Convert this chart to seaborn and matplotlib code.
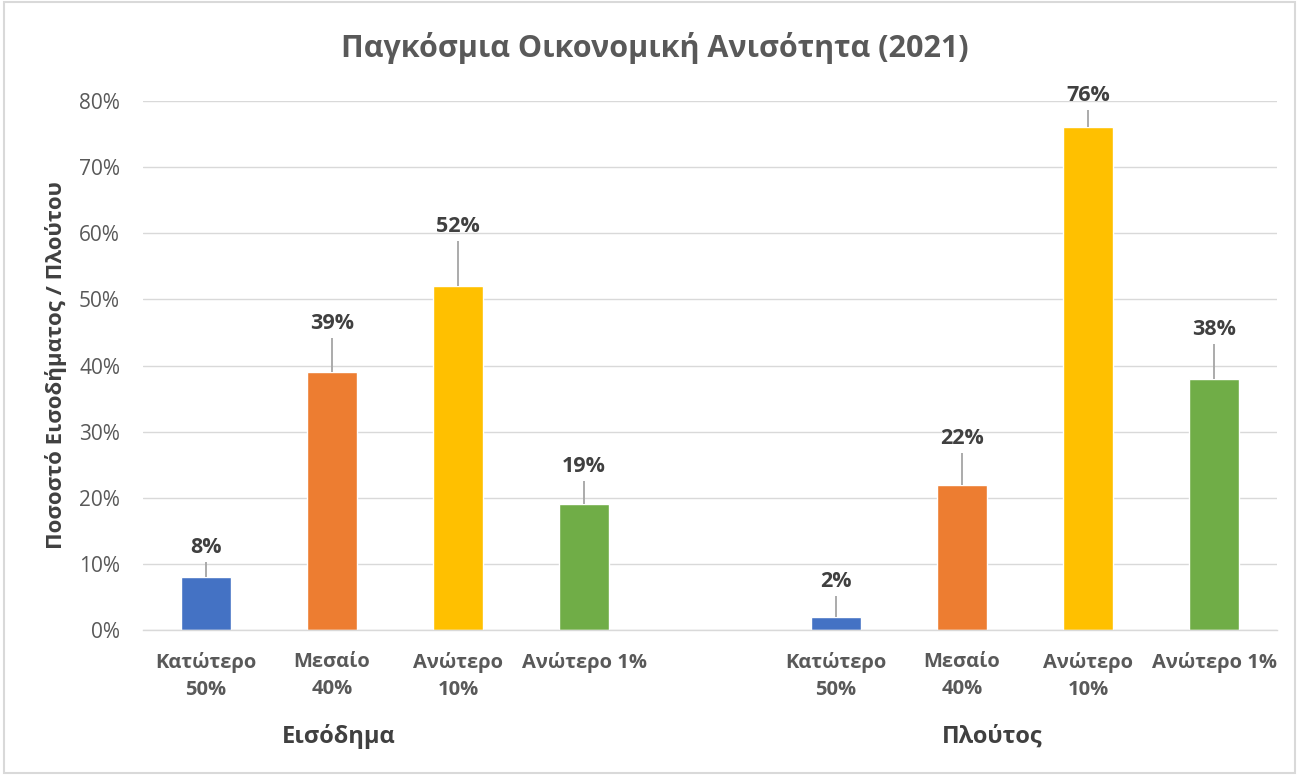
import matplotlib
matplotlib.use("Agg")
import matplotlib.pyplot as plt
import seaborn as sns
import pandas as pd
from matplotlib.patches import Rectangle

# ---- data ----
groups = ["Εισόδημα", "Πλούτος"]
levels = ["Κατώτερο\n50%", "Μεσαίο\n40%", "Ανώτερο\n10%", "Ανώτερο 1%"]
income_values = [0.08, 0.39, 0.52, 0.19]
wealth_values = [0.02, 0.22, 0.76, 0.38]
income_errors = [0.023, 0.051, 0.068, 0.036]
wealth_errors = [0.032, 0.047, 0.027, 0.053]
colors = ["#4472C4", "#ED7D31", "#FFC000", "#70AD47"]
title = "Παγκόσμια Οικονομική Ανισότητα (2021)"
ylabel = "Ποσοστό Εισοδήματος / Πλούτου"

rows = []
for g, vals, errs in [(groups[0], income_values, income_errors), (groups[1], wealth_values, wealth_errors)]:
    for lv, v, e in zip(levels, vals, errs):
        rows.append({"key": g + "|" + lv, "group": g, "level": lv, "value": v, "err": e})
df = pd.DataFrame(rows)
order = [groups[0] + "|" + lv for lv in levels] + ["__blank__"] + [groups[1] + "|" + lv for lv in levels]

sns.set_theme(style="white")
plt.rcParams["font.family"] = ["Open Sans", "DejaVu Sans"]
text_color = "#595959"
dark = "#404040"

fig = plt.figure(figsize=(12.99, 7.75), dpi=100)
ax = fig.add_axes([143 / 1299, 1 - 630 / 775, (1277 - 143) / 1299, (630 - 101) / 775])

sns.barplot(data=df, x="key", y="value", hue="level", order=order, hue_order=levels,
            palette=colors, dodge=False, width=0.4, legend=False, ax=ax, saturation=1)

pos = {k: i for i, k in enumerate(order)}
for _, r in df.iterrows():
    x = pos[r["key"]]
    ax.errorbar([x], [r["value"]], yerr=[[0], [r["err"]]], fmt="none", ecolor="#A5A5A5",
                elinewidth=1.3, capsize=0, zorder=3)
    ax.text(x, r["value"] + r["err"] + 0.006, f"{int(round(r['value'] * 100))}%", ha="center",
            va="bottom", fontsize=15.5, fontweight="bold", color=dark)

ax.set_ylim(0, 0.8)
ax.set_xlim(-0.5, len(order) - 0.5)
ax.set_yticks([i / 10 for i in range(9)])
ax.set_yticklabels([f"{i * 10}%" for i in range(9)], fontsize=15, color=text_color)
ax.tick_params(axis="y", length=0, pad=16.5)
ax.set_xticks(range(len(order)))
ax.set_xticklabels([k.split("|")[1] if "|" in k else "" for k in order], fontsize=14.5,
                   fontweight="bold", color=text_color, linespacing=1.5)
ax.tick_params(axis="x", length=0, pad=15.5)
ax.yaxis.grid(True, color="#D9D9D9", linewidth=1)
ax.set_axisbelow(True)
for s in ["top", "right", "left"]:
    ax.spines[s].set_visible(False)
ax.spines["bottom"].set_color("#D9D9D9")
ax.spines["bottom"].set_linewidth(1)
ax.set_xlabel("")
ax.set_ylabel("")
fig.text(56 / 1299, 1 - 365 / 775, ylabel, rotation=90, ha="center", va="center",
         fontsize=16, fontweight="bold", color=dark)

# group labels
ax.text(1.05, -0.202, groups[0], transform=ax.get_xaxis_transform(), ha="center", va="center",
        fontsize=17, fontweight="bold", color=dark)
ax.text(6.24, -0.202, groups[1], transform=ax.get_xaxis_transform(), ha="center", va="center",
        fontsize=17, fontweight="bold", color=dark)

fig.text(655 / 1299, 1 - 48 / 775, title, ha="center", va="center", fontsize=22,
         fontweight="bold", color=text_color)

fig.patches.append(Rectangle((0.003, 0.003), 0.994, 0.994, transform=fig.transFigure,
                             fill=False, edgecolor="#D9D9D9", linewidth=1.5))

fig.savefig("out.png", dpi=100)
